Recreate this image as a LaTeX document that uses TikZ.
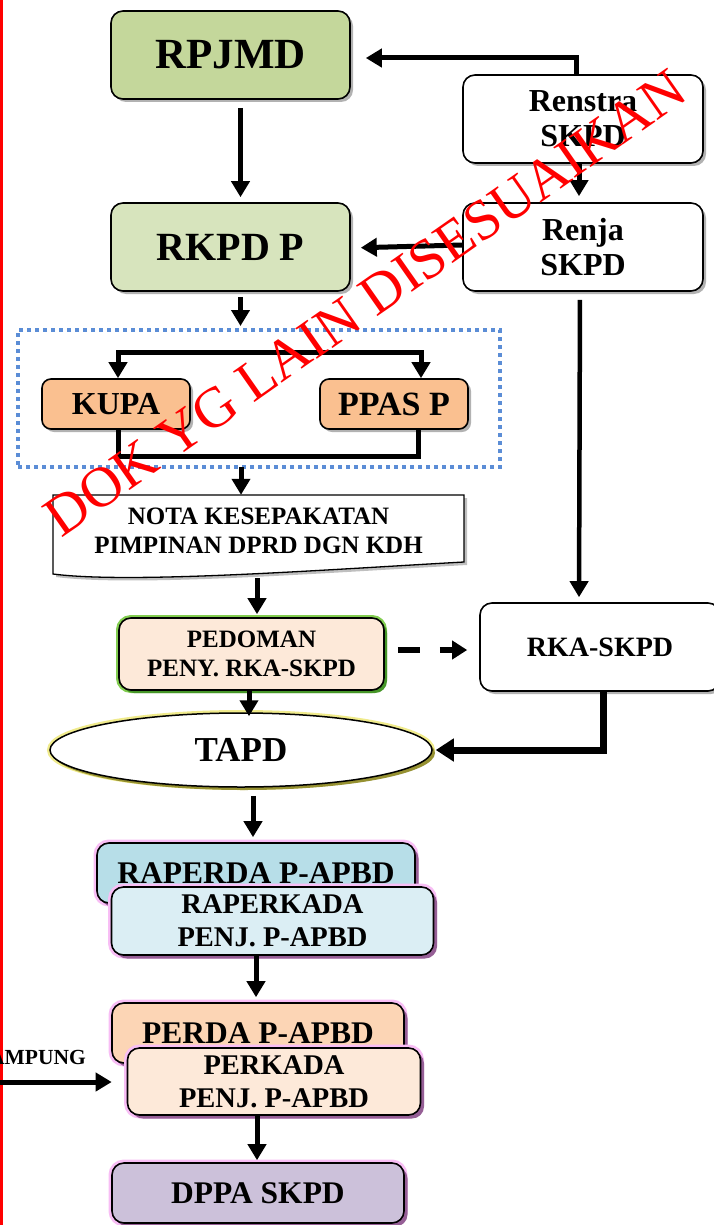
\documentclass[tikz,border=0pt]{standalone}
\usepackage{fontspec}
\setmainfont{Liberation Serif}
\usetikzlibrary{arrows.meta,shadows,calc,shapes.geometric}
\definecolor{cRPJMD}{RGB}{196,215,155}
\definecolor{cRKPD}{RGB}{215,228,189}
\definecolor{cKUPA}{RGB}{250,192,144}
\definecolor{cPED}{RGB}{253,233,217}
\definecolor{cRAPERDA}{RGB}{183,222,232}
\definecolor{cRAPERKADA}{RGB}{219,238,244}
\definecolor{cPERDA}{RGB}{252,213,181}
\definecolor{cPERKADA}{RGB}{253,233,217}
\definecolor{cDPPA}{RGB}{204,193,218}
\definecolor{cBlue}{RGB}{91,141,214}
\definecolor{cPink}{RGB}{248,190,245}
\definecolor{cPurple}{RGB}{150,95,150}
\definecolor{cGreen}{RGB}{130,205,80}
\definecolor{cDGreen}{RGB}{70,150,40}
\definecolor{cYel}{RGB}{240,235,140}
\definecolor{cOlive}{RGB}{150,145,50}
\newcommand\myfs[2]{\bfseries\fontsize{#1}{#2}\selectfont}
\tikzset{
  box/.style={draw=black, line width=1.6pt, rounded corners=12pt, align=center, inner sep=0pt},
  sh/.style={drop shadow={shadow xshift=3pt, shadow yshift=-3pt, opacity=0.3, fill=black}},
  pinkbox/.style={box, preaction={draw=cPink, line width=7pt},
     drop shadow={shadow xshift=3.5pt, shadow yshift=-3.5pt, opacity=1, fill=cPurple}},
  arr/.style={line width=5pt, -{Triangle[width=18pt,length=16pt]}},
  arrT/.style={line width=7pt, -{Triangle[width=22pt,length=18pt]}},
  ln/.style={line width=5pt},
}
\begin{document}
\begin{tikzpicture}[x=1pt,y=-1pt]
\useasboundingbox (0,0) rectangle (714,1225);
\fill[white] (0,0) rectangle (714,1225);
\fill[red] (0,0) rectangle (3,1225);

% top boxes
\node[box, sh, fill=cRPJMD, minimum width=239pt, minimum height=88pt, font=\myfs{43}{46}] (rpjmd) at (230.5,55) {RPJMD};
\node[box, sh, fill=white, minimum width=240pt, minimum height=88pt, font=\myfs{32}{35}] (renstra) at (583,119) {Renstra\\SKPD};
\node[box, sh, fill=cRKPD, minimum width=239pt, minimum height=88pt, font=\myfs{40}{44}] (rkpd) at (230.5,247) {RKPD P};
\node[box, sh, fill=white, minimum width=240pt, minimum height=88pt, font=\myfs{32}{35}] (renja) at (583,247) {Renja\\SKPD};

% group
\node[draw=cBlue, line width=4pt, dash pattern=on 4pt off 4pt, minimum width=482pt, minimum height=137pt, inner sep=0pt] (grp) at (259,398.5) {};
\node[box, sh, fill=cKUPA, minimum width=148pt, minimum height=50pt, rounded corners=9pt, font=\myfs{32}{34}] (kupa) at (116,404) {KUPA};
\node[box, sh, fill=cKUPA, minimum width=148pt, minimum height=50pt, rounded corners=9pt, font=\myfs{34}{36}] (ppas) at (394,404) {PPAS P};

% nota (document shape)
\draw[line width=1.3pt, fill=white, drop shadow={shadow xshift=3pt, shadow yshift=-3pt, opacity=0.25, fill=black}]
  (53,495) -- (464,495) -- (464,562) .. controls (320,570) and (130,584) .. (53,574) -- cycle;
\node[align=center, inner sep=0pt, minimum width=411pt, minimum height=72pt, font=\myfs{25}{29}] (nota) at (258.5,531) {NOTA KESEPAKATAN\\PIMPINAN DPRD DGN KDH};

% pedoman, rka, tapd
\node[box, fill=cPED, minimum width=265pt, minimum height=72pt, font=\myfs{25}{29},
  preaction={draw=cGreen, line width=6pt},
  drop shadow={shadow xshift=3pt, shadow yshift=-3pt, opacity=1, fill=cDGreen}] (ped) at (251.5,654) {PEDOMAN\\PENY. RKA-SKPD};
\node[box, sh, fill=white, minimum width=240pt, minimum height=88pt, font=\myfs{28}{30}] (rka) at (600,647) {RKA-SKPD};
\node[ellipse, draw=black, line width=1.5pt, fill=white, inner sep=0pt, minimum width=382pt, minimum height=74pt,
  preaction={draw=cYel, line width=6pt},
  drop shadow={shadow xshift=3pt, shadow yshift=-3pt, opacity=1, fill=cOlive}, font=\myfs{35}{38}] (tapd) at (241,750) {TAPD};

% raperda / perda
\node[pinkbox, fill=cRAPERDA, minimum width=318pt, minimum height=60pt, font=\myfs{31.5}{34}] (raperda) at (256,873) {RAPERDA P-APBD};
\node[pinkbox, fill=cRAPERKADA, minimum width=322pt, minimum height=68pt, font=\myfs{28.5}{33}] (raperkada) at (272.5,921) {RAPERKADA\\PENJ. P-APBD};
\node[pinkbox, fill=cPERDA, minimum width=292pt, minimum height=60pt, font=\myfs{31.5}{34}] (perda) at (258,1033) {PERDA P-APBD};
\node[pinkbox, fill=cPERKADA, minimum width=293pt, minimum height=67pt, font=\myfs{28.5}{33}] (perkada) at (274,1081.5) {PERKADA\\PENJ. P-APBD};
\node[pinkbox, fill=cDPPA, minimum width=292pt, minimum height=60pt, font=\myfs{31.5}{34}] (dppa) at (258,1193) {DPPA SKPD};

\node[anchor=east, inner sep=0pt, font=\myfs{21.5}{23}] (amp) at (86,1057.5) {AMPUNG};

% connectors
\draw[arr, shorten >=15pt] ($(renstra.north)+(-7,0)$) |- ($(rpjmd.east)+(0,3)$);
\coordinate (c1) at ($(rpjmd.south)+(10,0)$);
\draw[arr, shorten <=8pt, shorten >=5pt] (c1) -- (c1 |- rkpd.north);
\coordinate (c2) at ($(renstra.south)+(-4,0)$);
\draw[arr, shorten >=6pt] (c2) -- (c2 |- renja.north);
\draw[arr, shorten >=10pt] ($(renja.west)+(0,-2)$) -- ($(rkpd.east)+(0,1)$);
\coordinate (c3) at ($(rkpd.south)+(10,0)$);
\draw[arr, shorten <=5pt, shorten >=2pt] (c3) -- (c3 |- grp.north);
% bracket
\coordinate (bl) at ($(kupa.north)+(2,-26)$);
\coordinate (br) at ($(ppas.north)+(27,-26)$);
\draw[line width=5pt, {Triangle[width=18pt,length=16pt]}-{Triangle[width=18pt,length=16pt]}, line join=miter]
  (kupa.north -| bl) -- (bl) -- (br) -- (ppas.north -| br);
\coordinate (bl2) at ($(kupa.south)+(2,27)$);
\coordinate (br2) at ($(ppas.south)+(24,27)$);
\draw[ln, line join=miter] (kupa.south -| bl2) -- (bl2) -- (br2) -- (ppas.south -| br2);
\coordinate (c4) at ($(grp.south)+(-18,-2)$);
\draw[arr] (c4) -- (c4 |- nota.north);
\coordinate (c5) at ($(nota.south)+(-1.5,11)$);
\draw[arr, shorten >=3pt] (c5) -- (c5 |- ped.north);
\draw[line width=4.5pt, -{Triangle[width=18pt,length=16pt]}, shorten <=8pt, shorten >=5pt] ($(renja.south)+(-3,0)$) -- ($(rka.north)+(-21,0)$);
\draw[line width=6pt, dash pattern=on 22pt off 20pt, -{Triangle[width=18pt,length=15pt]}, shorten <=13pt, shorten >=12pt] ($(ped.east)+(0,-4)$) -- ($(rka.west)+(0,3)$);
\coordinate (c6) at ($(ped.south)+(-2.5,0)$);
\draw[arr, shorten >=-4pt] (c6) -- (c6 |- tapd.north);
\draw[arrT, shorten >=3pt] ($(rka.south)+(3,0)$) |- (tapd.east);
\coordinate (c7) at ($(tapd.south)+(12,8)$);
\draw[arr, shorten >=5pt] (c7) -- (c7 |- raperda.north);
\coordinate (c8) at ($(raperkada.south)+(-16.5,0)$);
\draw[arr, shorten >=5pt] (c8) -- (c8 |- perda.north);
\coordinate (lin) at (-5,1082);
\draw[arr, shorten >=15pt] (lin) -- (lin -| perkada.west);
\coordinate (c9) at ($(perkada.south)+(-17,0)$);
\draw[arr, shorten >=2pt] (c9) -- (c9 |- dppa.north);

% watermark
\node[rotate=35, anchor=base, text=red, inner sep=0pt, font=\mdseries\fontsize{57}{60}\selectfont] (wm) at (376,318) {DOK YG LAIN DISESUAIKAN};
\end{tikzpicture}
\end{document}
